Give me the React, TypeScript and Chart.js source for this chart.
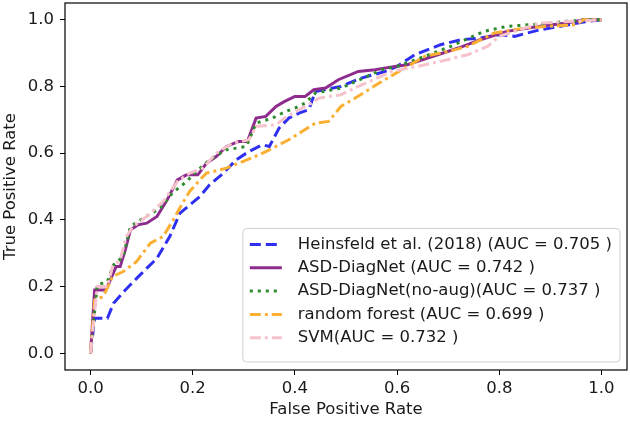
import React, { useEffect, useRef } from "react";
import { Chart, registerables } from "chart.js";

Chart.register(...registerables);

const tickValues = [0, 0.2, 0.4, 0.6, 0.8, 1.0];

const heinsfeldFpr = [0, 0.008, 0.033, 0.045, 0.068, 0.097, 0.13, 0.155, 0.175, 0.214, 0.233, 0.26, 0.285, 0.31, 0.336, 0.35, 0.369, 0.388, 0.408, 0.427, 0.44, 0.49, 0.53, 0.577, 0.6, 0.635, 0.685, 0.725, 0.763, 0.8, 0.83, 0.88, 0.92, 0.965, 1.0];
const heinsfeldTpr = [0, 0.105, 0.105, 0.15, 0.19, 0.235, 0.285, 0.35, 0.42, 0.47, 0.505, 0.54, 0.58, 0.605, 0.625, 0.62, 0.675, 0.705, 0.72, 0.73, 0.785, 0.8, 0.825, 0.845, 0.86, 0.895, 0.925, 0.94, 0.945, 0.955, 0.95, 0.97, 0.98, 0.993, 1.0];

const diagnetFpr = [0, 0.008, 0.03, 0.043, 0.05, 0.058, 0.068, 0.078, 0.093, 0.11, 0.13, 0.15, 0.17, 0.188, 0.21, 0.227, 0.246, 0.266, 0.29, 0.307, 0.324, 0.343, 0.363, 0.38, 0.4, 0.42, 0.437, 0.46, 0.485, 0.524, 0.557, 0.596, 0.62, 0.66, 0.72, 0.763, 0.815, 0.88, 0.932, 0.965, 1.0];
const diagnetTpr = [0, 0.19, 0.19, 0.235, 0.26, 0.26, 0.31, 0.37, 0.385, 0.39, 0.41, 0.46, 0.52, 0.535, 0.535, 0.57, 0.59, 0.62, 0.635, 0.635, 0.705, 0.71, 0.74, 0.755, 0.77, 0.77, 0.79, 0.795, 0.82, 0.845, 0.85, 0.86, 0.865, 0.885, 0.915, 0.94, 0.965, 0.98, 0.99, 1.0, 1.0];

const noAugFpr = [0, 0.013, 0.033, 0.045, 0.064, 0.078, 0.103, 0.136, 0.16, 0.188, 0.207, 0.233, 0.266, 0.305, 0.324, 0.356, 0.382, 0.4, 0.42, 0.44, 0.49, 0.57, 0.6, 0.654, 0.705, 0.77, 0.815, 0.88, 0.932, 0.977, 1.0];
const noAugTpr = [0, 0.205, 0.215, 0.265, 0.29, 0.38, 0.405, 0.435, 0.48, 0.515, 0.545, 0.58, 0.61, 0.62, 0.69, 0.705, 0.725, 0.735, 0.75, 0.78, 0.795, 0.85, 0.86, 0.89, 0.92, 0.965, 0.98, 0.987, 0.995, 1.0, 1.0];

const forestFpr = [0, 0.008, 0.025, 0.043, 0.064, 0.09, 0.117, 0.142, 0.162, 0.18, 0.194, 0.214, 0.227, 0.266, 0.29, 0.33, 0.35, 0.388, 0.414, 0.44, 0.466, 0.49, 0.518, 0.57, 0.615, 0.654, 0.7, 0.738, 0.79, 0.85, 0.893, 0.95, 0.965, 1.0];
const forestTpr = [0, 0.16, 0.17, 0.23, 0.245, 0.275, 0.33, 0.35, 0.4, 0.45, 0.485, 0.52, 0.54, 0.555, 0.57, 0.595, 0.61, 0.64, 0.665, 0.69, 0.695, 0.74, 0.765, 0.815, 0.855, 0.89, 0.905, 0.92, 0.96, 0.975, 0.98, 0.985, 1.0, 1.0];

const svmFpr = [0, 0.013, 0.033, 0.043, 0.058, 0.07, 0.083, 0.11, 0.142, 0.17, 0.194, 0.22, 0.246, 0.278, 0.31, 0.324, 0.363, 0.38, 0.408, 0.433, 0.447, 0.49, 0.524, 0.59, 0.64, 0.685, 0.738, 0.777, 0.8, 0.83, 0.88, 0.945, 1.0];
const svmTpr = [0, 0.2, 0.2, 0.26, 0.28, 0.35, 0.38, 0.41, 0.455, 0.515, 0.54, 0.555, 0.6, 0.63, 0.64, 0.68, 0.685, 0.705, 0.73, 0.75, 0.765, 0.775, 0.8, 0.845, 0.86, 0.875, 0.895, 0.92, 0.95, 0.965, 0.99, 0.995, 1.0];

const seriesLabels = [
  "Heinsfeld et al. (2018) (AUC = 0.705 )",
  "ASD-DiagNet (AUC = 0.742 )",
  "ASD-DiagNet(no-aug)(AUC = 0.737 )",
  "random forest (AUC = 0.699 )",
  "SVM(AUC = 0.732 )",
];
const seriesColors = ["#2f2ff2", "#8e2c8e", "#2e8b2e", "#fbb034", "#f6c3cd"];
const seriesDashes = [[11, 5], [], [3, 5], [11, 4, 3, 4], [11, 4, 3, 4]];

const FONT = "'DejaVu Sans', sans-serif";
const FONT_SIZE = 16.5;

function pts(xs: number[], ys: number[]) {
  return xs.map((x, i) => ({ x, y: ys[i] }));
}

const framePlugin = {
  id: "frameAndLegend",
  afterDatasetsDraw(chart: any) {
    const { ctx, chartArea } = chart;
    const { left, right, top, bottom } = chartArea;
    ctx.save();
    ctx.strokeStyle = "#000";
    ctx.lineWidth = 1.2;
    ctx.setLineDash([]);
    ctx.strokeRect(left, top, right - left, bottom - top);

    ctx.font = FONT_SIZE + "px " + FONT;
    const datasets = chart.data.datasets;
    let maxW = 0;
    datasets.forEach((d: any) => {
      maxW = Math.max(maxW, ctx.measureText(d.label).width);
    });
    const rowH = 23.3;
    const padX = 7;
    const handleLen = 32;
    const gap = 16;
    const boxW = padX + handleLen + gap + maxW + 8;
    const boxH = rowH * datasets.length + 17;
    const bx = right - 7 - boxW;
    const by = bottom - 8 - boxH;
    const r = 4;
    ctx.beginPath();
    ctx.moveTo(bx + r, by);
    ctx.lineTo(bx + boxW - r, by);
    ctx.quadraticCurveTo(bx + boxW, by, bx + boxW, by + r);
    ctx.lineTo(bx + boxW, by + boxH - r);
    ctx.quadraticCurveTo(bx + boxW, by + boxH, bx + boxW - r, by + boxH);
    ctx.lineTo(bx + r, by + boxH);
    ctx.quadraticCurveTo(bx, by + boxH, bx, by + boxH - r);
    ctx.lineTo(bx, by + r);
    ctx.quadraticCurveTo(bx, by, bx + r, by);
    ctx.closePath();
    ctx.fillStyle = "rgba(255,255,255,0.85)";
    ctx.fill();
    ctx.strokeStyle = "#d0d0d0";
    ctx.lineWidth = 1;
    ctx.stroke();

    datasets.forEach((d: any, i: number) => {
      const cy = by + 16 + i * rowH;
      ctx.beginPath();
      ctx.strokeStyle = d.borderColor;
      ctx.lineWidth = d.borderWidth;
      ctx.setLineDash(d.borderDash || []);
      ctx.moveTo(bx + padX, cy);
      ctx.lineTo(bx + padX + handleLen, cy);
      ctx.stroke();
      ctx.setLineDash([]);
      ctx.fillStyle = "#1a1a1a";
      ctx.textBaseline = "middle";
      ctx.textAlign = "left";
      ctx.fillText(d.label, bx + padX + handleLen + gap, cy);
    });
    ctx.restore();
  },
};

export default function App() {
  const canvasRef = useRef<HTMLCanvasElement | null>(null);

  useEffect(() => {
    document.body.style.margin = "0";
    const canvas = canvasRef.current;
    if (!canvas) return;
    const xs = [heinsfeldFpr, diagnetFpr, noAugFpr, forestFpr, svmFpr];
    const ys = [heinsfeldTpr, diagnetTpr, noAugTpr, forestTpr, svmTpr];
    const datasets = seriesLabels.map((label, i) => ({
      label,
      data: pts(xs[i], ys[i]),
      borderColor: seriesColors[i],
      backgroundColor: seriesColors[i],
      borderWidth: 3,
      borderDash: seriesDashes[i],
      pointRadius: 0,
      tension: 0,
      fill: false,
      order: seriesLabels.length - i,
    }));
    const tickFont = { family: FONT, size: FONT_SIZE };
    const chart = new Chart(canvas, {
      type: "line",
      data: { datasets },
      options: {
        animation: false,
        responsive: false,
        maintainAspectRatio: false,
        layout: { padding: { top: 3, right: 3, left: 0, bottom: 0 } },
        plugins: { legend: { display: false }, tooltip: { enabled: false } },
        scales: {
          x: {
            type: "linear",
            min: -0.05,
            max: 1.05,
            afterBuildTicks: (s: any) => {
              s.ticks = tickValues.map((v) => ({ value: v }));
            },
            afterFit: (s: any) => {
              s.height = 51;
              s.paddingLeft = 0;
              s.paddingRight = 0;
            },
            ticks: {
              color: "#1a1a1a",
              font: tickFont,
              padding: 4,
              maxRotation: 0,
              callback: (v: any) => Number(v).toFixed(1),
            },
            grid: {
              display: true,
              drawOnChartArea: false,
              drawTicks: true,
              tickLength: 5,
              color: "#000",
            },
            border: { display: false },
            title: {
              display: true,
              text: "False Positive Rate",
              color: "#1a1a1a",
              font: tickFont,
              padding: { top: 0, bottom: 1 },
            },
          },
          y: {
            type: "linear",
            min: -0.05,
            max: 1.05,
            afterBuildTicks: (s: any) => {
              s.ticks = tickValues.map((v) => ({ value: v }));
            },
            afterFit: (s: any) => {
              s.width = 65;
              s.paddingTop = 0;
              s.paddingBottom = 0;
            },
            ticks: {
              color: "#1a1a1a",
              font: tickFont,
              padding: 6,
              callback: (v: any) => Number(v).toFixed(1),
            },
            grid: {
              display: true,
              drawOnChartArea: false,
              drawTicks: true,
              tickLength: 5,
              color: "#000",
            },
            border: { display: false },
            title: {
              display: true,
              text: "True Positive Rate",
              color: "#1a1a1a",
              font: tickFont,
              padding: { top: 1, bottom: 0 },
            },
          },
        },
      },
      plugins: [framePlugin],
    } as any);
    return () => chart.destroy();
  }, []);

  return (
    <div style={{ width: 630, height: 421 }}>
      <canvas ref={canvasRef} width={630} height={421} style={{ display: "block" }} />
    </div>
  );
}
